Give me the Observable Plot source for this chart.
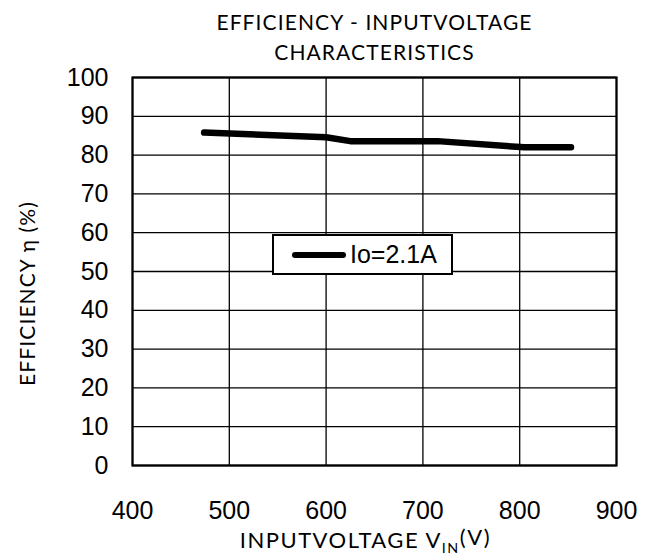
<!DOCTYPE html>
<html><head><meta charset="utf-8">
<script src="https://cdn.jsdelivr.net/npm/d3@7"></script>
<script src="https://cdn.jsdelivr.net/npm/@observablehq/plot@0.6"></script>
<style>
body{margin:0;background:#fff;}
#wrap{position:relative;width:654px;height:555px;}
#wrap svg{display:block;}
.legend{position:absolute;left:272px;top:234px;width:177px;height:37px;border:2px solid #000;background:#fff;display:flex;align-items:center;font-family:"Liberation Sans",Arial,sans-serif;font-size:25px;color:#000;}
.legend svg{margin-left:18px;margin-right:4px;}
</style></head><body><div id="wrap"></div>
<script>
const voltage = [474, 600, 625, 715, 805, 853];
const efficiency = [85.8, 84.6, 83.6, 83.6, 82.0, 82.0];
const seriesName = "Io=2.1A";
const xTicks = [400, 500, 600, 700, 800, 900];
const yTicks = [0, 10, 20, 30, 40, 50, 60, 70, 80, 90, 100];
const titleLines = ["EFFICIENCY - INPUTVOLTAGE", "CHARACTERISTICS"];
const yTitle = "EFFICIENCY η (%)";
const xTitleParts = ["INPUTVOLTAGE V", "IN", "(V)"];

const data = voltage.map((v, i) => ({v, e: efficiency[i]}));
const titleFont = "Lato, 'Open Sans', sans-serif";
const titleStyle = {fontSize: 21, fontFamily: titleFont, fill: "#000", lineAnchor: "middle", textAnchor: "middle"};

const chart = Plot.plot({
  width: 654, height: 555,
  marginLeft: 132, marginRight: 38, marginTop: 77, marginBottom: 90,
  style: {fontFamily: '"Liberation Sans", Arial, sans-serif', background: "#fff", color: "#000"},
  x: {domain: [400, 900]},
  y: {domain: [0, 100]},
  marks: [
    Plot.gridX(xTicks, {stroke: "#000", strokeOpacity: 1, strokeWidth: 1.3}),
    Plot.gridY(yTicks, {stroke: "#000", strokeOpacity: 1, strokeWidth: 1.3}),
    Plot.frame({stroke: "#000", strokeWidth: 2.2}),
    Plot.axisX(xTicks, {tickSize: 0, tickPadding: 36, fontSize: 25, label: null, tickFormat: d => String(d)}),
    Plot.axisY(yTicks, {tickSize: 0, tickPadding: 24, fontSize: 25, label: null, tickFormat: d => String(d)}),
    Plot.line(data, {x: "v", y: "e", stroke: "#000", strokeWidth: 6.5, strokeLinecap: "round", strokeLinejoin: "round"}),
    Plot.text([titleLines[0]], {...titleStyle, text: d => d, frameAnchor: "top", dy: -54, className: "ttl"}),
    Plot.text([titleLines[1]], {...titleStyle, text: d => d, frameAnchor: "top", dy: -24, className: "ttl"}),
    Plot.text([yTitle], {...titleStyle, text: d => d, frameAnchor: "left", dx: -104, dy: 22, rotate: -90, className: "ttl"}),
    Plot.text([xTitleParts.join("")], {...titleStyle, fontSize: 22, text: d => d, frameAnchor: "bottom", dx: -9, dy: 75, className: "xtitle"})
  ]
});

d3.select(chart).selectAll(".ttl text").style("letter-spacing", "1.1px");
d3.select(chart).selectAll(".xtitle text").style("letter-spacing", "1.5px");

// subscript in x title
const xt = d3.select(chart).select(".xtitle text");
xt.text("");
xt.append("tspan").text(xTitleParts[0]);
xt.append("tspan").attr("font-size", "0.65em").attr("dy", "0.35em").text(xTitleParts[1]);
xt.append("tspan").attr("dy", "-0.35em").text(xTitleParts[2]);

const wrap = document.getElementById("wrap");
wrap.appendChild(chart);

const legend = document.createElement("div");
legend.className = "legend";
legend.innerHTML = `<svg width="54" height="10"><line x1="3" y1="5" x2="51" y2="5" stroke="#000" stroke-width="6" stroke-linecap="round"/></svg><span>${seriesName}</span>`;
wrap.appendChild(legend);
</script>
</body></html>
